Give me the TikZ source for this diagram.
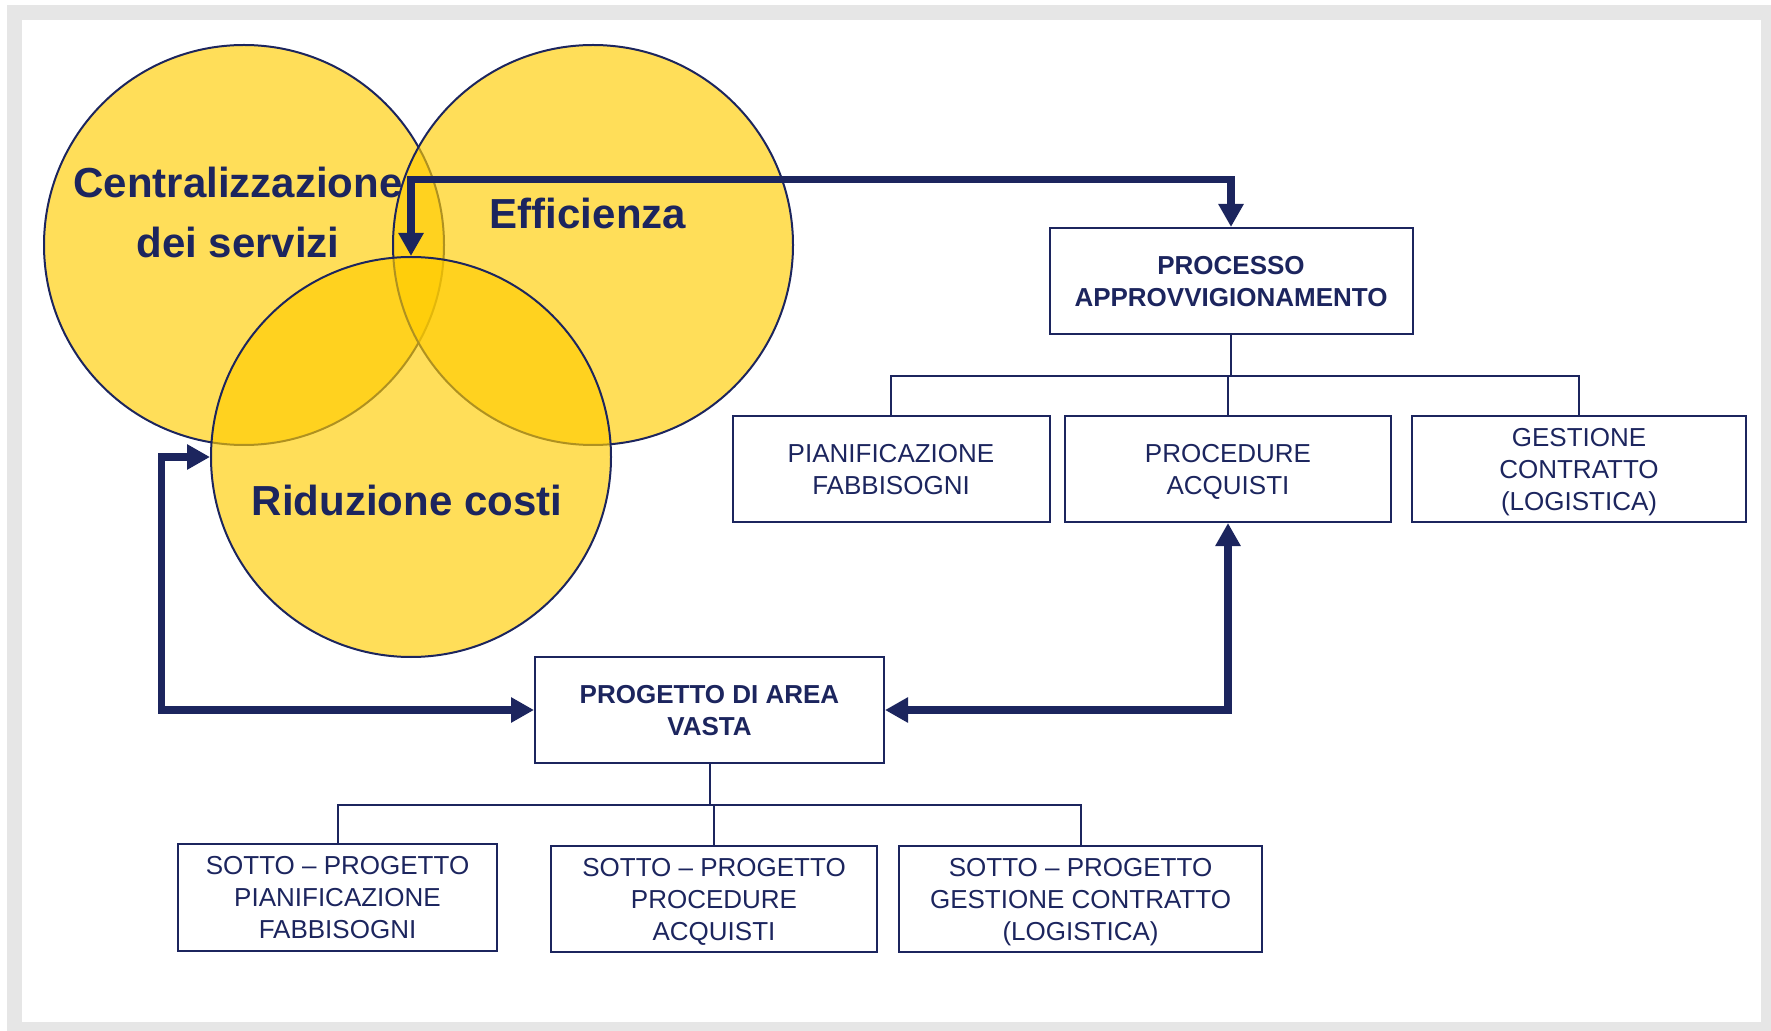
\documentclass[tikz,border=0pt]{standalone}
\usepackage{fontspec}
\setmainfont{Liberation Sans}
\usepackage{tikz}
\usetikzlibrary{arrows.meta}
\definecolor{navy}{RGB}{28,37,94}
\definecolor{gold}{RGB}{255,204,0}
\definecolor{framegray}{RGB}{230,230,230}

\begin{document}
\begin{tikzpicture}
[x=0.5pt,y=-0.5pt,
ring/.style={circle,draw=navy,line width=1pt,fill=gold,fill opacity=0.65,minimum size=200pt,inner sep=0pt},
big/.style={text=navy,font=\bfseries\fontsize{21}{30}\selectfont,align=center,inner sep=0pt},
box/.style={draw=navy,line width=1pt,text=navy,align=center,minimum height=53pt,inner sep=0pt,text depth=-3pt,font=\fontsize{13}{16}\selectfont},
head/.style={box,font=\bfseries\fontsize{13}{16}\selectfont},
link/.style={draw=navy,line width=3.75pt,>={Triangle[length=11.5pt,width=12pt]},<->},
tree/.style={draw=navy,line width=1pt}]
\useasboundingbox (0,0) rectangle (1771,1031);
\draw[framegray,line width=7.5pt] (14.5,13) rectangle (1768.5,1029.5);
\node[ring] (cC) at (244,245) {};
\node[ring] (cE) at (593,245) {};
\node[ring] (cR) at (411,457) {};
\node[big] (tC) at (238,212) {Centralizzazione\\dei servizi};
\node[big] (tE) at (588,213) {Efficienza};
\node[big] (tR) at (407,500) {Riduzione costi};
\node[head,minimum width=181.5pt] (proc) at (1231,281) {PROCESSO\\APPROVVIGIONAMENTO};
\node[box,minimum width=158.5pt] (pian) at (891,469) {PIANIFICAZIONE\\FABBISOGNI};
\node[box,minimum width=163pt] (acq) at (1228,469) {PROCEDURE\\ACQUISTI};
\node[box,minimum width=167pt,text depth=0pt] (gest) at (1579,469) {GESTIONE\\CONTRATTO\\(LOGISTICA)};
\node[head,minimum width=174.5pt] (area) at (709.5,710) {PROGETTO DI AREA\\VASTA};
\node[box,minimum width=159.5pt,minimum height=53.5pt] (sub1) at (337.5,897.5) {SOTTO – PROGETTO\\PIANIFICAZIONE\\FABBISOGNI};
\node[box,minimum width=163pt] (sub2) at (714,899) {SOTTO – PROGETTO\\PROCEDURE\\ACQUISTI};
\node[box,minimum width=181.5pt,text depth=0pt] (sub3) at (1080.5,899) {SOTTO – PROGETTO\\GESTIONE CONTRATTO\\(LOGISTICA)};
\draw[link] (cR.north) -- (cR.north |- 0,179.5) -| (proc.north);
\draw[link] (cR.west) -- ++(-48.5,0) |- (area.west);
\draw[link] (area.east) -| (acq.south);
\draw[tree] (proc.south) -- ++(0,41) coordinate (pb) -| (pian.north);
\draw[tree] (pb) -| (gest.north);
\draw[tree] (pb -| acq.north) -- (acq.north);
\draw[tree] (area.south) -- ++(0,41) coordinate (ab) -| (sub1.north);
\draw[tree] (ab) -| (sub3.north);
\draw[tree] (ab -| sub2.north) -- (sub2.north);
\end{tikzpicture}
\end{document}
